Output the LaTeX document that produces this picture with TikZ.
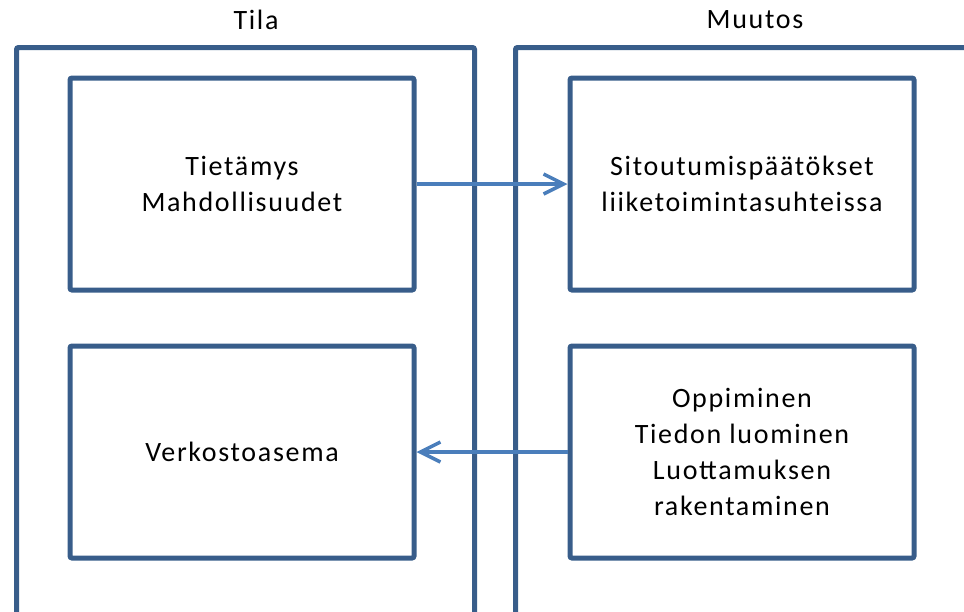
\documentclass[tikz,border=0pt]{standalone}
\usepackage{fontspec}
\setmainfont{Carlito}[LetterSpace=6]
\usetikzlibrary{arrows.meta,positioning}
\definecolor{boxcol}{HTML}{385D8A}
\definecolor{arrcol}{HTML}{4A7EBB}

\begin{document}
\begin{tikzpicture}[x=1pt, y=-1pt,
  outer/.style={draw=boxcol, line width=5pt, rounded corners=2pt, anchor=north west,
                minimum height=620pt},
  inner/.style={draw=boxcol, line width=5pt, rounded corners=2pt, minimum width=344pt,
                minimum height=212pt, align=center, font=\fontsize{28}{36}\selectfont},
  title/.style={font=\fontsize{28}{30}\selectfont},
  arr/.style={-{Straight Barb[length=20pt, width=20pt]}, draw=arrcol, line width=3.5pt}
]
  \clip (0,0) rectangle (964,611);
  % outer frames
  \node[outer, minimum width=458pt] (tila) at (14,45) {};
  \node[outer, minimum width=490pt] (muutos) at (513,45) {};
  \node[title] (tilatitle) at (256,20) {Tila};
  \node[title] (muutostitle) at (755,20) {Muutos};
  % inner boxes
  \node[inner] (tietamys) at (242,184) {Tietämys\\Mahdollisuudet};
  \node[inner, below=51pt of tietamys] (verkosto) {Verkostoasema};
  \node[inner, right=151pt of tietamys] (sitoutuminen) {Sitoutumispäätökset\\liiketoimintasuhteissa};
  \node[inner, below=51pt of sitoutuminen] (oppiminen) {Oppiminen\\Tiedon luominen\\Luottamuksen\\rakentaminen};
  \draw[arr] (tietamys.east) -- (sitoutuminen.west);
  \draw[arr] (oppiminen.west) -- (verkosto.east);
\end{tikzpicture}
\end{document}
